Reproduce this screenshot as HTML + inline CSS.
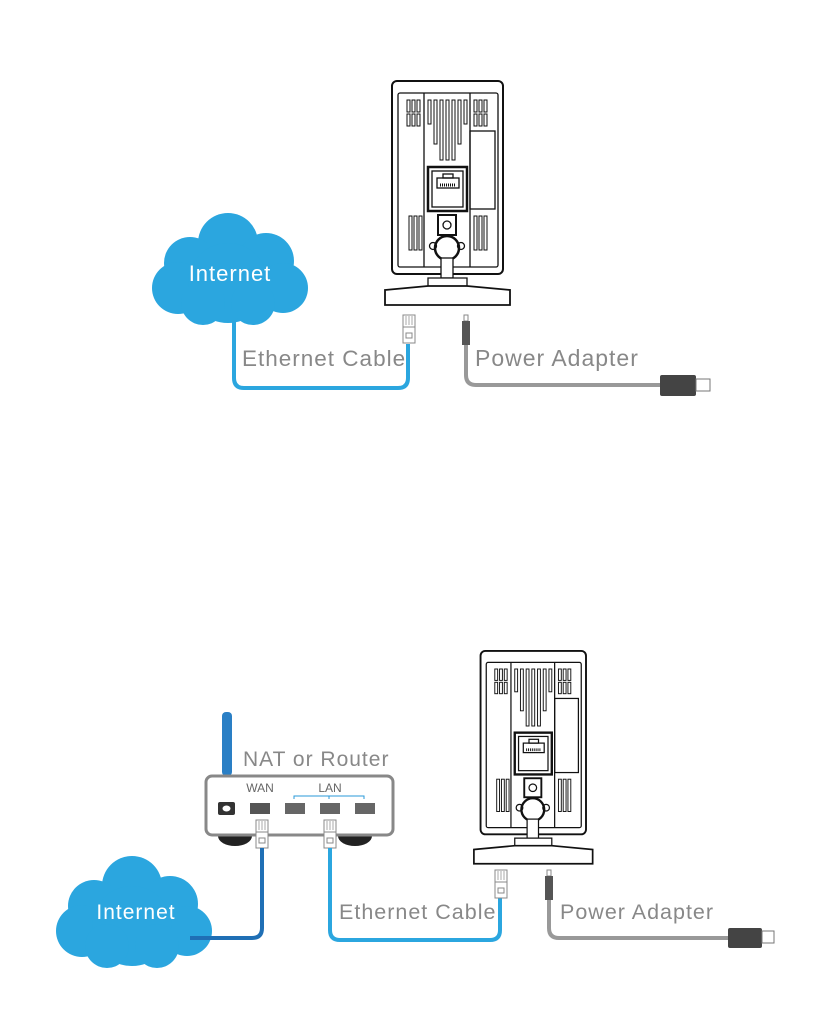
<!DOCTYPE html>
<html><head><meta charset="utf-8"><style>
html,body{margin:0;padding:0;background:#fff;}
svg{display:block;}
text{font-family:"Liberation Sans",sans-serif;}
</style></head><body>
<svg width="832" height="1014" viewBox="0 0 832 1014" xmlns="http://www.w3.org/2000/svg">
<defs>
<g id="cam" stroke="#111" fill="none" stroke-width="1.3">
  <rect x="392" y="81" width="111" height="193" rx="5" fill="#fff" stroke-width="2"/>
  <rect x="398" y="93" width="100" height="174" rx="2"/>
  <line x1="424" y1="93" x2="424" y2="267"/>
  <line x1="470" y1="93" x2="470" y2="267"/>
  <g stroke-width="1">
    <rect x="407" y="100" width="3" height="12"/><rect x="412" y="100" width="3" height="12"/><rect x="417" y="100" width="3" height="12"/>
    <rect x="407" y="114" width="3" height="12"/><rect x="412" y="114" width="3" height="12"/><rect x="417" y="114" width="3" height="12"/>
    <rect x="428" y="100" width="3" height="24"/><rect x="434" y="100" width="3" height="44"/><rect x="440" y="100" width="3" height="60"/><rect x="446" y="100" width="3" height="60"/><rect x="452" y="100" width="3" height="60"/><rect x="458" y="100" width="3" height="44"/><rect x="464" y="100" width="3" height="24"/>
    <rect x="474" y="100" width="3" height="12"/><rect x="479" y="100" width="3" height="12"/><rect x="484" y="100" width="3" height="12"/>
    <rect x="474" y="114" width="3" height="12"/><rect x="479" y="114" width="3" height="12"/><rect x="484" y="114" width="3" height="12"/>
    <rect x="409" y="216" width="3" height="34"/><rect x="414" y="216" width="3" height="34"/><rect x="419" y="216" width="3" height="34"/>
    <rect x="474" y="216" width="3" height="34"/><rect x="479" y="216" width="3" height="34"/><rect x="484" y="216" width="3" height="34"/>
  </g>
  <rect x="470" y="131" width="25" height="78"/>
  <rect x="428" y="167" width="39" height="44" stroke-width="2.5"/>
  <rect x="432" y="171" width="31" height="36"/>
  <rect x="437" y="178" width="22" height="10"/>
  <rect x="443" y="174" width="10" height="4"/>
  <line x1="440" y1="185" x2="456" y2="185" stroke-dasharray="1 1" stroke-width="3"/>
  <rect x="438" y="215" width="18" height="20" stroke-width="2"/>
  <circle cx="447" cy="225" r="4"/>
  <circle cx="447" cy="248" r="12" stroke-width="2.5" fill="#fff"/>
  <circle cx="433" cy="246" r="3.5"/><circle cx="461" cy="246" r="3.5"/>
  <rect x="441" y="258" width="12" height="20" fill="#fff"/>
  <path d="M428 278 H467 V290 H428 Z" fill="#fff"/>
  <path d="M385 290 L428 286 H467 L510 290 V305 H385 Z" fill="#fff" stroke-width="1.8"/>
</g>
<g id="cloud" fill="#2ba6df">
  <circle cx="0" cy="0" r="30"/>
  <circle cx="-38" cy="20" r="26"/>
  <circle cx="38" cy="18" r="28"/>
  <circle cx="-50" cy="45" r="26"/>
  <circle cx="55" cy="45" r="25"/>
  <circle cx="0" cy="40" r="40"/>
  <circle cx="-25" cy="60" r="22"/>
  <circle cx="25" cy="60" r="22"/>
</g>
<g id="rj">
  <rect x="-6" y="0" width="12" height="12" fill="#fff" stroke="#888" stroke-width="1"/>
  <line x1="-3" y1="1" x2="-3" y2="10" stroke="#aaa"/><line x1="0" y1="1" x2="0" y2="10" stroke="#aaa"/><line x1="3" y1="1" x2="3" y2="10" stroke="#aaa"/>
  <rect x="-6" y="12" width="12" height="16" fill="#fff" stroke="#888" stroke-width="1"/>
  <rect x="-3" y="18" width="6" height="5" fill="none" stroke="#888"/>
</g>
<g id="dc">
  <rect x="-2" y="0" width="4" height="6" fill="none" stroke="#888"/>
  <rect x="-4" y="6" width="8" height="24" fill="#555"/>
</g>
</defs>

<use href="#cam"/>
<use href="#cloud" transform="translate(228,243)"/>
<text x="230" y="281" text-anchor="middle" font-size="22" fill="#fff" letter-spacing="1">Internet</text>
<path d="M234 310 V378 Q234 388 244 388 H398 Q408 388 408 378 V344" fill="none" stroke="#2ba6df" stroke-width="4"/>
<use href="#rj" transform="translate(409,315)"/>
<use href="#dc" transform="translate(466,315)"/>
<path d="M466 345 V375 Q466 385 476 385 H662" fill="none" stroke="#999" stroke-width="4"/>
<rect x="660" y="375" width="36" height="21" rx="2" fill="#444"/>
<rect x="696" y="379" width="14" height="12" fill="#fff" stroke="#777"/>
<text x="242" y="366" font-size="22.5" fill="#888" letter-spacing="1">Ethernet Cable</text>
<text x="475" y="366" font-size="23" fill="#888" letter-spacing="1">Power Adapter</text>

<use href="#cam" transform="translate(108.15,574) scale(0.95)"/>
<rect x="222" y="712" width="10" height="64" rx="4" fill="#2a7fc5"/>
<text x="243" y="766" font-size="21" fill="#888" letter-spacing="1">NAT or Router</text>
<path d="M218 836 a17 10 0 0 0 34 0 Z" fill="#222"/>
<path d="M338 836 a17 10 0 0 0 34 0 Z" fill="#222"/>
<rect x="206" y="776" width="187" height="59" rx="6" fill="#fff" stroke="#888" stroke-width="3"/>
<text x="260" y="792" font-size="12" fill="#666" text-anchor="middle">WAN</text>
<text x="330" y="792" font-size="12" fill="#666" text-anchor="middle">LAN</text>
<path d="M294 799 V796 H364 V799 M329 796 V799" fill="none" stroke="#2a9ad8" stroke-width="1"/>
<rect x="218" y="802" width="17" height="13" rx="2" fill="#333"/>
<ellipse cx="226.5" cy="808.5" rx="4" ry="3" fill="#fff"/>
<rect x="250" y="803" width="20" height="11" fill="#555"/>
<rect x="285" y="803" width="20" height="11" fill="#666"/>
<rect x="320" y="803" width="20" height="11" fill="#666"/>
<rect x="355" y="803" width="20" height="11" fill="#666"/>
<use href="#rj" transform="translate(262,820)"/>
<use href="#rj" transform="translate(330,820)"/>
<use href="#cloud" transform="translate(132,886)"/>
<text x="136" y="919" text-anchor="middle" font-size="21" fill="#fff" letter-spacing="1">Internet</text>
<path d="M190 938 H252 Q262 938 262 928 V848" fill="none" stroke="#1f6fb5" stroke-width="4"/>
<path d="M330 848 V930 Q330 940 340 940 H490 Q500 940 500 930 V898" fill="none" stroke="#2ba6df" stroke-width="4"/>
<use href="#rj" transform="translate(501,870)"/>
<use href="#dc" transform="translate(549,870)"/>
<path d="M549 900 V928 Q549 938 559 938 H730" fill="none" stroke="#999" stroke-width="4"/>
<rect x="728" y="928" width="34" height="20" rx="2" fill="#444"/>
<rect x="762" y="931" width="12" height="12" fill="#fff" stroke="#777"/>
<text x="339" y="919" font-size="21.5" fill="#888" letter-spacing="1">Ethernet Cable</text>
<text x="560" y="919" font-size="21.5" fill="#888" letter-spacing="1">Power Adapter</text>
</svg>
</body></html>
